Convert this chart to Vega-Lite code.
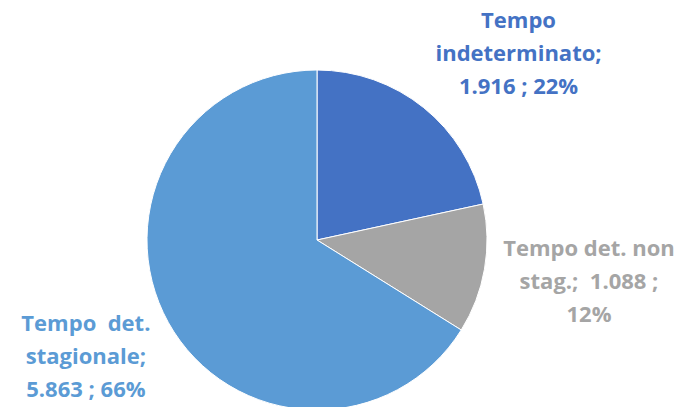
{
  "$schema": "https://vega.github.io/schema/vega-lite/v6.json",
  "autosize": "none",
  "width": 634,
  "height": 334,
  "padding": {"left": 0, "right": 45, "top": 73, "bottom": 0},
  "background": "white",
  "view": {"stroke": null},
  "data": {
    "values": [
      {"i": 1, "cat": "Tempo indeterminato", "value": 1916, "label": ["Tempo", "indeterminato;", "1.916 ; 22%"]},
      {"i": 2, "cat": "Tempo det. non stag.", "value": 1088, "label": ["Tempo det. non", "stag.;\u00a0 1.088 ;", "12%"]},
      {"i": 3, "cat": "Tempo det. stagionale", "value": 5863, "label": ["Tempo\u00a0 det.", "stagionale;", "5.863 ; 66%"]}
    ]
  },
  "encoding": {
    "theta": {"field": "value", "type": "quantitative", "stack": true},
    "order": {"field": "i", "type": "quantitative"},
    "color": {
      "field": "cat", "type": "nominal", "legend": null,
      "scale": {
        "domain": ["Tempo indeterminato", "Tempo det. non stag.", "Tempo det. stagionale"],
        "range": ["#4472C4", "#A5A5A5", "#5B9BD5"]
      }
    }
  },
  "layer": [
    {"mark": {"type": "arc", "outerRadius": 170, "stroke": "white", "strokeWidth": 1}},
    {
      "mark": {"type": "text", "radius": 270, "dx": 32, "dy": -9, "font": "Open Sans", "fontWeight": "bold", "fontSize": 22, "lineHeight": 33, "align": "center", "baseline": "middle"},
      "encoding": {"text": {"condition": {"test": "datum.i === 1", "field": "label"}, "value": ""}}
    },
    {
      "mark": {"type": "text", "radius": 270, "dx": 6, "dy": -37, "font": "Open Sans", "fontWeight": "bold", "fontSize": 22, "lineHeight": 33, "align": "center", "baseline": "middle"},
      "encoding": {"text": {"condition": {"test": "datum.i === 2", "field": "label"}, "value": ""}}
    },
    {
      "mark": {"type": "text", "radius": 270, "dx": 5, "dy": -47, "font": "Open Sans", "fontWeight": "bold", "fontSize": 22, "lineHeight": 33, "align": "center", "baseline": "middle"},
      "encoding": {"text": {"condition": {"test": "datum.i === 3", "field": "label"}, "value": ""}}
    }
  ]
}
